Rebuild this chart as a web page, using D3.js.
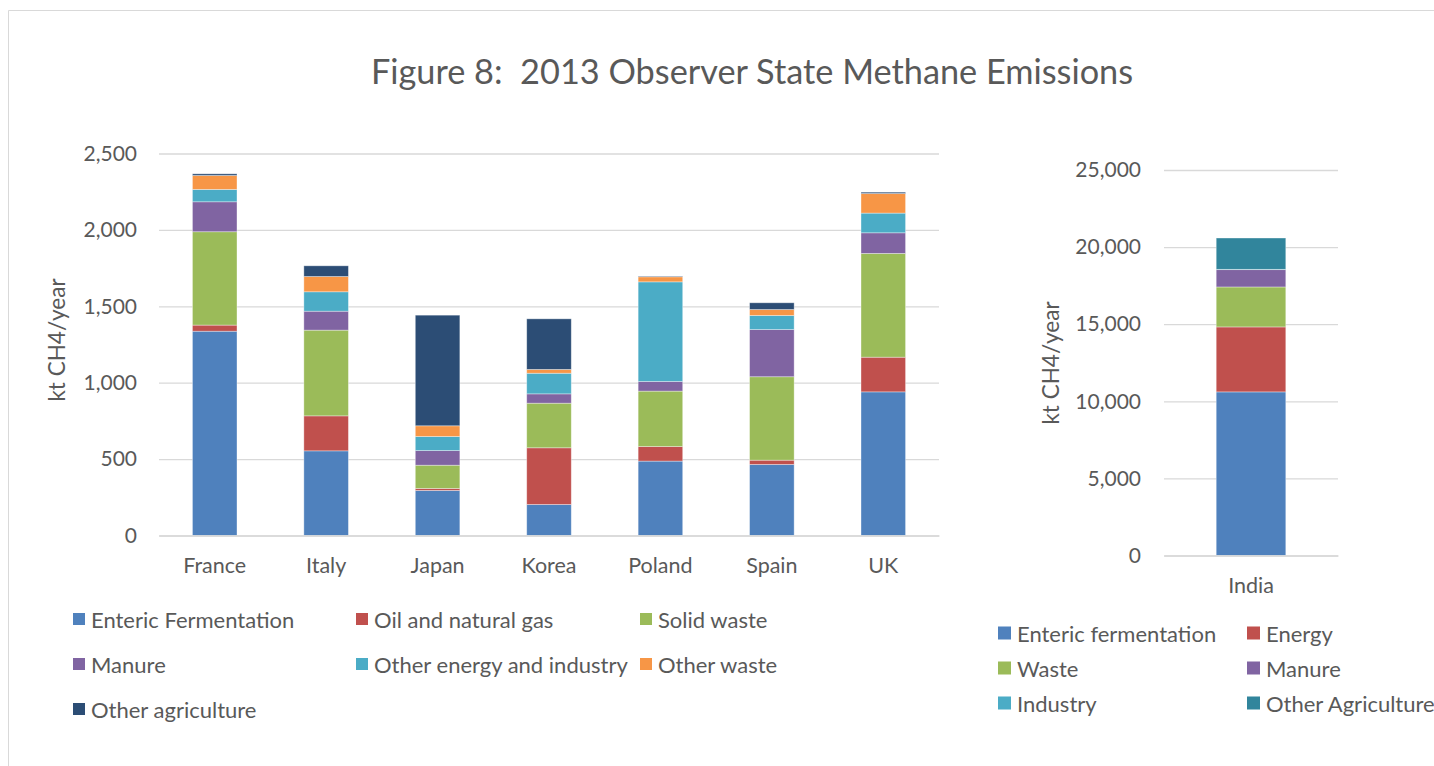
<!DOCTYPE html>
<html>
<head>
<meta charset="utf-8">
<script src="https://cdn.jsdelivr.net/npm/d3@7"></script>
<style>
  html, body { margin: 0; padding: 0; background: #fff; }
  svg { display: block; font-family: Lato, "Open Sans", sans-serif; }
  .title { white-space: pre; }
</style>
</head>
<body>
<svg id="chart" width="1434" height="766"></svg>
<script>
// Observer states, 2013 methane emissions by source (kt CH4/year)
const countries = ["France", "Italy", "Japan", "Korea", "Poland", "Spain", "UK"];
const sourceNames = ["Enteric Fermentation", "Oil and natural gas", "Solid waste", "Manure",
                     "Other energy and industry", "Other waste", "Other agriculture"];
const sourceColors = ["#4F81BD", "#C0504D", "#9BBB59", "#8064A2", "#4BACC6", "#F79646", "#2C4D75"];

const entericFermentation = [1337, 554, 295, 203, 487, 465, 940];
const oilAndNaturalGas    = [40, 229, 13, 371, 95, 28, 227];
const solidWaste          = [611, 561, 152, 292, 363, 546, 679];
const manure              = [196, 124, 96, 61, 63, 309, 135];
const otherEnergyIndustry = [81, 127, 92, 135, 652, 92, 129];
const otherWaste          = [91, 100, 70, 25, 33, 39, 128];
const otherAgriculture    = [11, 70, 724, 331, 4, 44, 9];
const leftTicks = [0, 500, 1000, 1500, 2000, 2500];

// India shown on its own scale
const indiaCategories = ["India"];
const indiaSourceNames = ["Enteric fermentation", "Energy", "Waste", "Manure", "Industry", "Other Agriculture"];
const indiaColors = ["#4F81BD", "#C0504D", "#9BBB59", "#8064A2", "#4BACC6", "#31859C"];
const indiaEnteric = [10610];
const indiaEnergy = [4213];
const indiaWaste = [2592];
const indiaManure = [1123];
const indiaIndustry = [20];
const indiaOtherAgriculture = [2032];
const rightTicks = [0, 5000, 10000, 15000, 20000, 25000];

const svg = d3.select("#chart");
const textColor = "#595959";
const gridColor = "#D9D9D9";
const fmt = d3.format(",");
const fontStack = "Lato, 'Open Sans', sans-serif";

// outer frame
svg.append("path")
  .attr("d", "M8.5,766 V10.5 H1434")
  .attr("fill", "none").attr("stroke", "#D9D9D9").attr("stroke-width", 1);

// title
svg.append("text")
  .attr("class", "title")
  .attr("x", 752).attr("y", 84)
  .attr("text-anchor", "middle")
  .attr("font-size", 34.3).attr("fill", textColor)
  .text("Figure 8:  2013 Observer State Methane Emissions");

function drawStacked(opts) {
  const { cats, series, names, colors, ticks, x0, x1, y0, y1, labelX, titleX, titleY } = opts;
  const x = d3.scaleBand().domain(cats).range([x0, x1]).paddingInner(0.6).paddingOuter(0.3);
  const y = d3.scaleLinear().domain([ticks[0], ticks[ticks.length - 1]]).range([y0, y1]);

  const rows = cats.map((c, i) => {
    const r = { cat: c };
    names.forEach((n, k) => { r[n] = series[k][i]; });
    return r;
  });
  const stacked = d3.stack().keys(names)(rows);

  // gridlines and value labels
  const yAxis = d3.axisLeft(y).tickValues(ticks).tickFormat(fmt).tickSize(-(x1 - x0));
  const g = svg.append("g").attr("transform", `translate(${x0},0)`).call(yAxis);
  g.select(".domain").remove();
  g.selectAll(".tick line").attr("stroke", gridColor).attr("stroke-width", 1.3);
  g.selectAll(".tick text").attr("fill", textColor).attr("font-size", 21)
    .attr("font-family", fontStack)
    .attr("x", labelX - x0);

  // stacked segments
  stacked.forEach((layer, k) => {
    svg.append("g").attr("fill", colors[k])
      .selectAll("rect").data(layer).join("rect")
      .attr("x", d => x(d.data.cat))
      .attr("width", x.bandwidth())
      .attr("y", d => y(d[1]))
      .attr("height", d => Math.max(0, y(d[0]) - y(d[1])))
      .attr("stroke", "#ffffff").attr("stroke-opacity", 0.45).attr("stroke-width", 0.8);
  });

  // category axis
  const xAxis = d3.axisBottom(x).tickSize(0).tickPadding(22);
  const gx = svg.append("g").attr("transform", `translate(0,${y0})`).call(xAxis);
  gx.select(".domain").attr("stroke", gridColor).attr("stroke-width", 1.3);
  gx.selectAll(".tick text").attr("fill", textColor).attr("font-size", 21.5)
    .attr("font-family", fontStack);

  // value axis title
  svg.append("text")
    .attr("transform", `translate(${titleX},${titleY}) rotate(-90)`)
    .attr("text-anchor", "middle").attr("font-size", 22.5).attr("fill", textColor)
    .text("kt CH4/year");
}

drawStacked({
  cats: countries,
  series: [entericFermentation, oilAndNaturalGas, solidWaste, manure, otherEnergyIndustry, otherWaste, otherAgriculture],
  names: sourceNames, colors: sourceColors, ticks: leftTicks,
  x0: 159, x1: 939, y0: 535.5, y1: 153.5, labelX: 137, titleX: 65, titleY: 340
});

drawStacked({
  cats: indiaCategories,
  series: [indiaEnteric, indiaEnergy, indiaWaste, indiaManure, indiaIndustry, indiaOtherAgriculture],
  names: indiaSourceNames, colors: indiaColors, ticks: rightTicks,
  x0: 1164, x1: 1338, y0: 555.5, y1: 170, labelX: 1141, titleX: 1059, titleY: 363
});

// legends
function legend(names, colors, cols, xs, ys, fontSize, box) {
  const g = svg.append("g");
  names.forEach((n, i) => {
    const cx = xs[i % cols], cy = ys[Math.floor(i / cols)];
    g.append("rect").attr("x", cx).attr("y", cy - box / 2 - 1).attr("width", box).attr("height", box).attr("fill", colors[i]);
    g.append("text").attr("x", cx + box + 6).attr("y", cy).attr("dy", "0.35em")
      .attr("font-size", fontSize).attr("fill", textColor).text(n);
  });
}
legend(sourceNames, sourceColors, 3, [73, 356, 640], [620, 665, 710], 22, 12);
legend(indiaSourceNames, indiaColors, 2, [998, 1247], [634, 669, 704], 22, 13);
</script>
</body>
</html>
